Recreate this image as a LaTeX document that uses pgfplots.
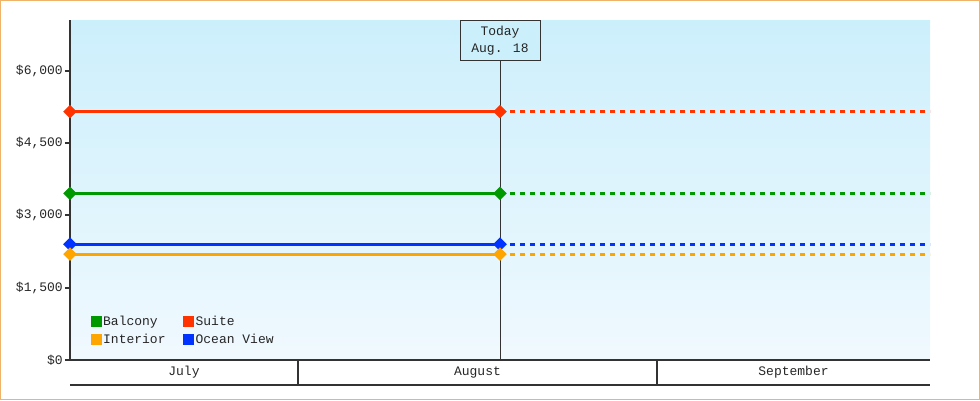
\documentclass[border=0pt]{standalone}
\usepackage{pgfplots}
\pgfplotsset{compat=1.18}
\usepackage{fontspec}
\setmainfont{Liberation Mono}
\setmonofont{Liberation Mono}
\definecolor{bgtop}{HTML}{CCEFFC}
\definecolor{bgbot}{HTML}{F0F9FE}
\definecolor{frameor}{HTML}{F0B36A}
\definecolor{axc}{HTML}{333333}
\definecolor{cbal}{HTML}{009900}
\definecolor{csui}{HTML}{FF3300}
\definecolor{cint}{HTML}{FFA500}
\definecolor{cocn}{HTML}{0033FF}
\begin{document}
\begin{tikzpicture}[x=1pt,y=1pt,font=\fontsize{13}{15}\selectfont]
\useasboundingbox (-70,-40) rectangle (910,360);
\draw[frameor, line width=1pt] (-69.5,-39.5) rectangle (909.5,359.5);
\begin{axis}[
  at={(0,0)}, anchor=south west,
  width=860pt, height=340pt, scale only axis,
  xmin=0, xmax=860, ymin=0, ymax=7050,
  axis lines*=left,
  axis line style={draw=axc, line width=2pt},
  xtick=\empty,
  ytick={0,1500,3000,4500,6000},
  yticklabels={{\$0},{\$1,500},{\$3,000},{\$4,500},{\$6,000}},
  tick align=outside, major tick length=5pt,
  ytick style={draw=axc, line width=2pt},
  yticklabel style={inner sep=2pt, text=black!85},
  axis background/.style={top color=bgtop, bottom color=bgbot},
  clip=false,
  legend style={at={(axis cs:18,1000)}, anchor=north west, draw=none, fill=none,
    legend columns=2, row sep=3pt, text=black!85,
    /tikz/every even column/.append style={column sep=16pt}},
  legend cell align=left,
  every axis plot/.append style={mark options={solid, rotate=45}},
]
\addplot[axc, line width=1pt, forget plot] coordinates {(430,0) (430,6220)};
% Suite
\addplot[csui, line width=3pt, dash pattern=on 5pt off 5pt, forget plot] coordinates {(430,5150) (860,5150)};
\addplot[csui, line width=3pt, mark=square*, mark size=3.3pt, forget plot] coordinates {(0,5150) (430,5150)};
% Balcony
\addplot[cbal, line width=3pt, dash pattern=on 5pt off 5pt, forget plot] coordinates {(430,3455) (860,3455)};
\addplot[cbal, line width=3pt, mark=square*, mark size=3.3pt, forget plot] coordinates {(0,3455) (430,3455)};
% Ocean View
\addplot[cocn, line width=3pt, dash pattern=on 5pt off 5pt, forget plot] coordinates {(430,2400) (860,2400)};
\addplot[cocn, line width=3pt, mark=square*, mark size=3.3pt, forget plot] coordinates {(0,2400) (430,2400)};
% Interior
\addplot[cint, line width=3pt, dash pattern=on 5pt off 5pt, forget plot] coordinates {(430,2195) (860,2195)};
\addplot[cint, line width=3pt, mark=square*, mark size=3.3pt, forget plot] coordinates {(0,2195) (430,2195)};
\addlegendimage{only marks, mark=square*, mark size=5pt, cbal, mark options={draw=none, rotate=0}}
\addlegendentry{Balcony}
\addlegendimage{only marks, mark=square*, mark size=5pt, csui, mark options={draw=none, rotate=0}}
\addlegendentry{Suite}
\addlegendimage{only marks, mark=square*, mark size=5pt, cint, mark options={draw=none, rotate=0}}
\addlegendentry{Interior}
\addlegendimage{only marks, mark=square*, mark size=5pt, cocn, mark options={draw=none, rotate=0}}
\addlegendentry{Ocean View}
\end{axis}
\node[draw=axc, line width=1pt, fill=bgtop, minimum width=80pt, minimum height=40pt,
  align=center, anchor=north, inner sep=0pt, text=black!85,
  font=\fontsize{13}{17}\selectfont] at (430,340) {Today\\Aug. 18};
\draw[axc, line width=1.5pt] (0,-25) -- (860,-25);
\draw[axc, line width=1.5pt] (228,0) -- (228,-25);
\draw[axc, line width=1.5pt] (587,0) -- (587,-25);
\node[text=black!85] at (114,-12.5) {July};
\node[text=black!85] at (407.5,-12.5) {August};
\node[text=black!85] at (723.5,-12.5) {September};
\end{tikzpicture}
\end{document}
